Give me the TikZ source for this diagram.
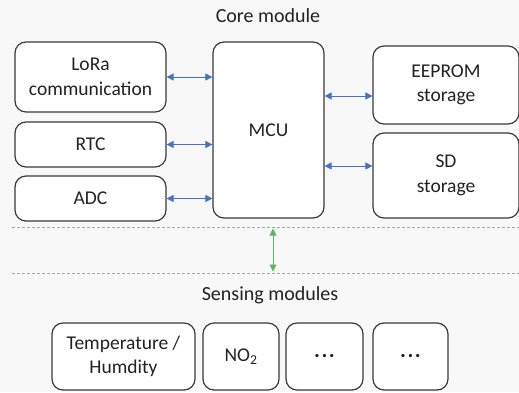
\documentclass[tikz,border=0pt]{standalone}
\usepackage{fontspec}
\setmainfont{Carlito}
\usetikzlibrary{arrows.meta}
\definecolor{bg}{HTML}{F8F8F8}
\definecolor{txt}{HTML}{222222}
\definecolor{edge}{HTML}{3A3A3A}
\definecolor{blu}{HTML}{4472C4}
\definecolor{grn}{HTML}{5CB85C}
\tikzset{
  box/.style={draw=edge, line width=1.2pt, fill=white, rounded corners=11pt,
    align=center, text=txt, font=\fontsize{19.5}{24.5}\selectfont, inner sep=0pt},
  link/.style={blu, line width=0.8pt, {Triangle[length=7pt,width=7pt]}-{Triangle[length=7pt,width=7pt]}},
  glink/.style={grn, line width=0.8pt, {Triangle[length=7pt,width=7pt]}-{Triangle[length=7pt,width=7pt]}},
  sep/.style={draw=gray!70, line width=0.6pt, dash pattern=on 3pt off 2pt},
  title/.style={text=txt, font=\fontsize{20}{24}\selectfont, inner sep=0pt}
}
\newcommand{\mydots}{{\fontsize{22}{24}\selectfont\textbf{.\kern1.5pt.\kern1.5pt.}}}
\begin{document}
\begin{tikzpicture}[x=1pt,y=-1pt]
\useasboundingbox (0,0) rectangle (519,392);
\fill[bg] (0,0) rectangle (519,392);
\begin{scope}
\clip (0,0) rectangle (519,392);
\node[title] (t1) at (268,16) {Core module};
\node[box, minimum width=151pt, minimum height=70pt] (lora) at (90.5,77) {LoRa\\communication};
\node[box, minimum width=151pt, minimum height=45pt] (rtc) at (90.5,144.5) {RTC};
\node[box, minimum width=151pt, minimum height=45pt] (adc) at (90.5,198.5) {ADC};
\node[box, minimum width=111pt, minimum height=176pt] (mcu) at (268.5,130) {MCU};
\node[box, minimum width=146pt, minimum height=78pt] (eep) at (446,85) {EEPROM\\storage};
\node[box, minimum width=146pt, minimum height=85pt] (sd) at (446,175.5) {SD\\storage};
\draw[link] (lora.east) -- (lora.east -| mcu.west);
\draw[link] (rtc.east) -- (rtc.east -| mcu.west);
\draw[link] (adc.east) -- (adc.east -| mcu.west);
\draw[link] (mcu.east |- 0,96) -- (eep.west |- 0,96);
\draw[link] (mcu.east |- 0,166) -- (sd.west |- 0,166);
\coordinate (d1a) at (12,227);
\coordinate (d1b) at (519,227);
\coordinate (d2a) at (12,273);
\coordinate (d2b) at (519,273);
\draw[sep] (d1a) -- (d1b);
\draw[sep] (d2a) -- (d2b);
\coordinate (g1) at (273,228.5);
\coordinate (g2) at (273,271.5);
\draw[glink] (g1) -- (g2);
\node[title] (t2) at (270,295) {Sensing modules};
\node[box, minimum width=143pt, minimum height=67pt] (s1) at (123.5,356.5) {Temperature /\\Humdity};
\node[box, minimum width=76pt, minimum height=67pt] (s2) at (241,356.5) {NO\textsubscript{2}};
\node[box, minimum width=77pt, minimum height=67pt] (s3) at (324.5,356.5) {\mydots};
\node[box, minimum width=75pt, minimum height=67pt] (s4) at (410.5,356.5) {\mydots};
\end{scope}
\end{tikzpicture}
\end{document}
